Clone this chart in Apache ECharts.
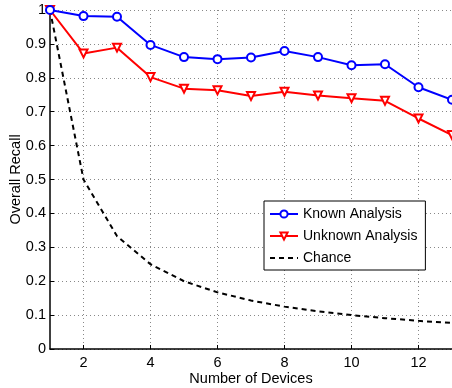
<!DOCTYPE html>
<html>
<head>
<meta charset="utf-8">
<script src="https://cdn.jsdelivr.net/npm/echarts@6/dist/echarts.min.js"></script>
<style>
  html, body { margin: 0; padding: 0; background: #fff; }
  #chart { width: 452px; height: 388px; }
</style>
</head>
<body>
<div id="chart"></div>
<script>
const devices = [1, 2, 3, 4, 5, 6, 7, 8, 9, 10, 11, 12, 13];
const knownRecall = [1.0, 0.982, 0.98, 0.897, 0.861, 0.855, 0.86, 0.879, 0.861, 0.837, 0.84, 0.772, 0.735];
const unknownRecall = [1.0, 0.872, 0.889, 0.802, 0.768, 0.763, 0.746, 0.759, 0.748, 0.74, 0.732, 0.68, 0.631];
const chanceRecall = [1.0, 0.5, 0.333, 0.25, 0.2, 0.167, 0.143, 0.125, 0.111, 0.1, 0.091, 0.083, 0.077];
const xTicks = [2, 4, 6, 8, 10, 12];

const font = "Liberation Sans";
const toPairs = (ys) => ys.map((y, i) => [devices[i], y]);

const chart = echarts.init(document.getElementById("chart"));

chart.setOption({
  animation: false,
  textStyle: { fontFamily: font, color: "#000" },
  grid: { left: 50, right: 0, top: 10, bottom: 39, outerBoundsMode: "none", containLabel: false },
  legend: {
    left: 264,
    top: 201,
    orient: "vertical",
    backgroundColor: "#fff",
    borderColor: "#000",
    borderWidth: 1,
    borderRadius: 0,
    padding: [5, 8, 4, 5],
    itemGap: 6,
    itemWidth: 28,
    itemHeight: 9,
    textStyle: { fontFamily: font, fontSize: 14, color: "#000", lineHeight: 16 },
    data: [
      "Known Analysis",
      "Unknown Analysis",
      { name: "Chance", itemStyle: { opacity: 0 } }
    ]
  },
  xAxis: {
    type: "value",
    min: 1,
    max: 13,
    name: "Number of Devices",
    nameLocation: "middle",
    nameGap: 22,
    nameMoveOverlap: false,
    nameTextStyle: { fontFamily: font, fontSize: 14.5, color: "#000" },
    axisLine: { lineStyle: { color: "#000", width: 1.5 } },
    axisTick: { inside: true, length: 4, lineStyle: { color: "#000" }, customValues: xTicks },
    axisLabel: { fontSize: 14.5, color: "#000", margin: 6, customValues: xTicks },
    splitLine: { show: true, lineStyle: { color: "#888", type: [1, 3], width: 1 } }
  },
  yAxis: {
    type: "value",
    min: 0,
    max: 1,
    interval: 0.1,
    name: "Overall Recall",
    nameLocation: "middle",
    nameGap: 27,
    nameMoveOverlap: false,
    nameTextStyle: { fontFamily: font, fontSize: 14.5, color: "#000" },
    axisLine: { show: true, lineStyle: { color: "#000", width: 1.5 } },
    axisTick: { show: true, inside: true, length: 4, lineStyle: { color: "#000" } },
    axisLabel: { fontSize: 14.5, color: "#000", margin: 4, formatter: (v) => String(+v.toFixed(1)) },
    splitLine: { show: true, lineStyle: { color: "#888", type: [1, 3], width: 1 } }
  },
  series: [
    {
      name: "Chance",
      type: "line",
      data: toPairs(chanceRecall),
      symbol: "none",
      z: 1,
      lineStyle: { color: "#000", width: 2, type: [5, 4] },
      itemStyle: { color: "#000" }
    },
    {
      name: "Unknown Analysis",
      type: "line",
      data: toPairs(unknownRecall),
      symbol: "emptyTriangle",
      symbolRotate: 180,
      symbolSize: 8,
      z: 2,
      lineStyle: { color: "#ff0000", width: 2 },
      itemStyle: { color: "#ff0000", borderWidth: 2 }
    },
    {
      name: "Known Analysis",
      type: "line",
      data: toPairs(knownRecall),
      symbol: "emptyCircle",
      symbolSize: 8,
      z: 3,
      lineStyle: { color: "#0000ff", width: 2 },
      itemStyle: { color: "#0000ff", borderWidth: 2 }
    }
  ]
});
</script>
</body>
</html>
